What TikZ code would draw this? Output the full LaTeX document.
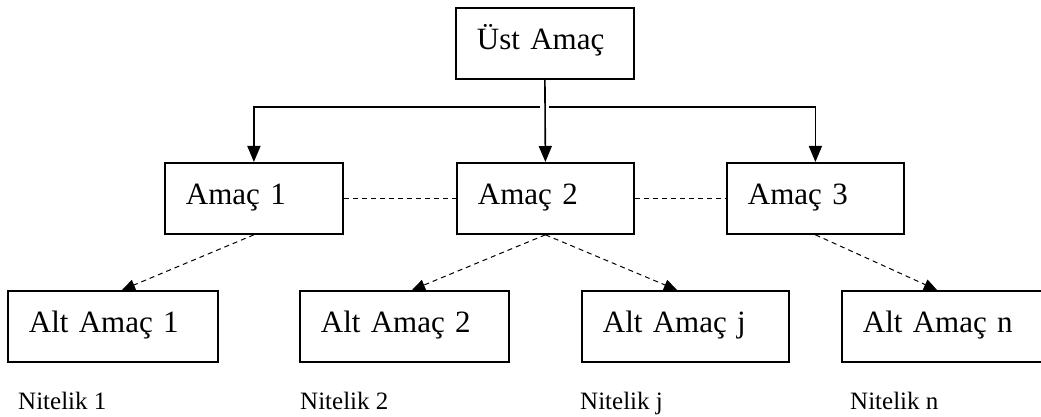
\documentclass[tikz,border=0pt]{standalone}
\usepackage{fontspec}
\setmainfont{Liberation Serif}
\usetikzlibrary{arrows.meta}

\begin{document}
\begin{tikzpicture}[x=1pt,y=-1pt,
  goal/.style={draw, line width=1.8pt, anchor=north west, align=left,
    inner xsep=21pt, inner ysep=20pt, text height=22pt, text depth=9pt,
    font=\fontsize{31}{36}\selectfont},
  note/.style={anchor=base west, inner sep=0pt, font=\fontsize{25}{30}\selectfont},
  solidarrow/.style={line width=1.6pt, -{Triangle[length=16pt,width=13pt]}},
  dasharrow/.style={line width=1pt, dash pattern=on 5pt off 4pt,
    -{Triangle[length=13pt,width=11pt]}},
  dashlink/.style={line width=1pt, dash pattern=on 5pt off 4pt}]
\clip (0,0) rectangle (1041,417);

% top goal
\node[goal, text width=136pt] (ust) at (455,7) {Üst Amaç};

% goals
\node[goal, text width=136pt] (a1) at (164,162) {Amaç 1};
\node[goal, text width=135pt] (a2) at (456,162) {Amaç 2};
\node[goal, text width=135pt] (a3) at (726,162) {Amaç 3};

% sub-goals
\node[goal, text width=168pt] (s1) at (7,290) {Alt Amaç 1};
\node[goal, text width=167pt] (s2) at (299,290) {Alt Amaç 2};
\node[goal, text width=165pt] (sj) at (581,290) {Alt Amaç j};
\node[goal, text width=168pt] (sn) at (841,290) {Alt Amaç n};

% attributes
\node[note] (n1) at (18,409) {Nitelik 1};
\node[note] (n2) at (300,409) {Nitelik 2};
\node[note] (nj) at (580,409) {Nitelik j};
\node[note] (nn) at (850,409) {Nitelik n};

% solid tree connectors, with a gap where the bus meets the centre line
\coordinate (busL) at (540,107);
\coordinate (busR) at (549,107);
\draw[solidarrow] (busL) -| (a1.north);
\draw[solidarrow] (busR) -| (a3.north);
\draw[solidarrow] (ust.south) -- (a2.north);

% dashed links between goals
\draw[dashlink] (a1.east) -- (a2.west);
\draw[dashlink] (a2.east) -- (a3.west);

% dashed arrows to sub-goals
\coordinate (t1) at (122,290);
\coordinate (t2) at (412,290);
\coordinate (tj) at (677,290);
\coordinate (tn) at (937,290);
\draw[dasharrow] (a1.south) -- (t1);
\draw[dasharrow] (a2.south) -- (t2);
\draw[dasharrow] (a2.south) -- (tj);
\draw[dasharrow] (a3.south) -- (tn);
\end{tikzpicture}
\end{document}
